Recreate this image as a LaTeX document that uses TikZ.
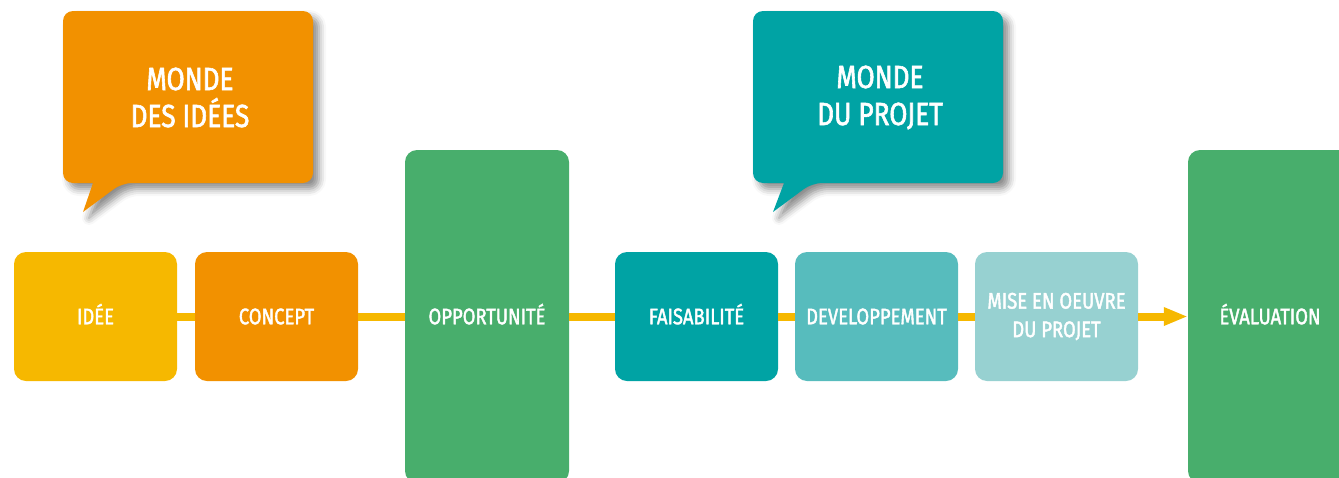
\documentclass[tikz,border=0pt]{standalone}
\usepackage{fontspec}
\setmainfont{Fira Sans}[FakeStretch=0.82, FakeBold=1.8]
\usetikzlibrary{shadows.blur,arrows.meta}
\definecolor{cYel}{HTML}{F6B800}
\definecolor{cOra}{HTML}{F29100}
\definecolor{cGrn}{HTML}{48AE6C}
\definecolor{cTea}{HTML}{00A3A4}
\definecolor{cTeb}{HTML}{57BCBD}
\definecolor{cTec}{HTML}{97D1D1}
\begin{document}
\begin{tikzpicture}[x=1pt,y=-1pt,
  stepbox/.style={rounded corners=12pt, minimum width=163pt, minimum height=129pt,
    text=white, font=\fontsize{22.5}{28.5}\selectfont, align=center, inner sep=0pt},
  oneline/.style={text height=15.5pt, text depth=0pt},
  tallbox/.style={stepbox, oneline, fill=cGrn, minimum width=164pt, minimum height=333pt},
  bubble/.style={rounded corners=10pt,
    blur shadow={shadow xshift=6pt, shadow yshift=-6pt, shadow blur radius=7pt, shadow opacity=45}},
  bubbletext/.style={text=white, font=\fontsize{32}{37}\selectfont, align=center, inner sep=0pt},
  flow/.style={draw=cYel, line width=8pt}]
\clip (0,0) rectangle (1339,477);
% speech bubbles
\path[fill=cOra, bubble] (63,11) -- (313,11) -- (313,183) -- (122,183) [sharp corners] -- (83,212) -- (93,183) [rounded corners=10pt] -- (63,183) -- cycle;
\node[bubbletext] (mondeidees) at (190,97.5) {MONDE\\DES IDÉES};
\path[fill=cTea, bubble] (753,11) -- (1003,11) -- (1003,183) -- (812,183) [sharp corners] -- (773,212) -- (784,183) [rounded corners=10pt] -- (753,183) -- cycle;
\node[bubbletext] (mondeprojet) at (880,97.5) {MONDE\\DU PROJET};
% steps
\node[stepbox, oneline, fill=cYel] (idee) at (95.5,316.5) {IDÉE};
\node[stepbox, oneline, fill=cOra] (concept) at (276.5,316.5) {CONCEPT};
\node[tallbox] (opp) at (487,316.5) {OPPORTUNITÉ};
\node[stepbox, oneline, fill=cTea] (fais) at (696.5,316.5) {FAISABILITÉ};
\node[stepbox, oneline, fill=cTeb] (dev) at (876.5,316.5) {DEVELOPPEMENT};
\node[stepbox, fill=cTec] (mise) at (1056.5,316.5) {MISE EN OEUVRE\\DU PROJET};
\node[tallbox] (eval) at (1270,316.5) {ÉVALUATION};
% connectors
\draw[flow] (idee.east) -- (concept.west);
\draw[flow] (concept.east) -- (opp.west);
\draw[flow] (opp.east) -- (fais.west);
\draw[flow] (fais.east) -- (dev.west);
\draw[flow] (dev.east) -- (mise.west);
\draw[flow, -{Triangle[length=24pt,width=17pt]}] (mise.east) -- (eval.west);
\end{tikzpicture}
\end{document}
